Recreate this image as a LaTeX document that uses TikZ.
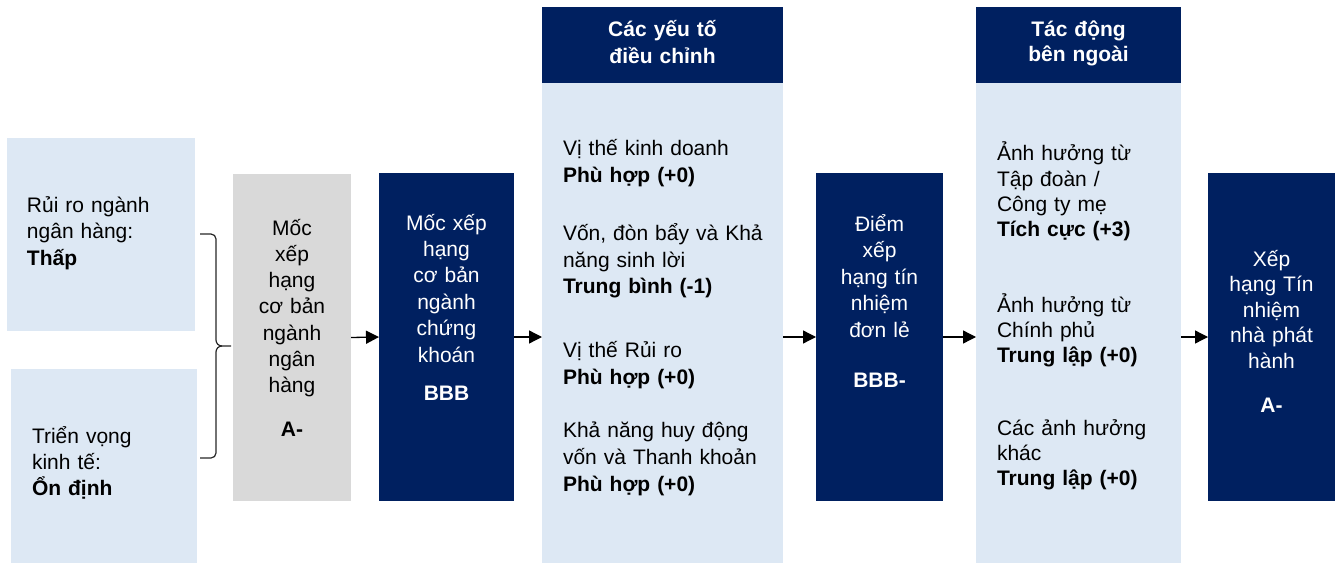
\documentclass[tikz,border=0pt]{standalone}
\usepackage{fontspec}
\setmainfont{Liberation Sans}
\usetikzlibrary{arrows.meta}
\definecolor{navy}{HTML}{002060}
\definecolor{lblue}{HTML}{DDE8F4}
\definecolor{lgray}{HTML}{D9D9D9}
\tikzset{
  box/.style={draw=none, inner sep=0pt, outer sep=0pt, anchor=north west},
  lightbox/.style={box, fill=lblue},
  darkbox/.style={box, fill=navy},
  graybox/.style={box, fill=lgray},
  txt/.style={inner sep=0pt, outer sep=0pt, text=black},
  ltxt/.style={txt, anchor=base west, align=left},
  ctxt/.style={txt, anchor=base, align=center},
  wtxt/.style={ctxt, text=white},
  conn/.style={draw=black, line width=1.3pt, -{Triangle[length=13pt,width=13pt]}},
  bracestyle/.style={draw=black!85, line width=1.2pt, line join=round}
}
\begin{document}
\begin{tikzpicture}[x=1pt,y=-1pt]
\useasboundingbox (0,0) rectangle (1335,564);
% boxes
\node[lightbox, minimum width=188pt, minimum height=193pt] (r1) at (7,138) {};
\node[lightbox, minimum width=186pt, minimum height=194pt] (r2) at (11,369) {};
\node[graybox, minimum width=118pt, minimum height=327pt] (gb) at (233,174) {};
\node[darkbox, minimum width=135pt, minimum height=328pt] (bbb) at (379,173) {};
\node[darkbox, minimum width=241pt, minimum height=76pt] (adjH) at (542,7) {};
\node[lightbox, minimum width=241pt, minimum height=480pt] (adjB) at (542,83) {};
\node[darkbox, minimum width=127pt, minimum height=328pt] (sa) at (816,173) {};
\node[darkbox, minimum width=205pt, minimum height=76pt] (extH) at (976,7) {};
\node[lightbox, minimum width=205pt, minimum height=480pt] (extB) at (976,83) {};
\node[darkbox, minimum width=127pt, minimum height=328pt] (fin) at (1208,173) {};

% texts left boxes
\node[ltxt, text width=170pt, font={\fontsize{21}{26.5}\selectfont}] (t1) at (27,212)
  {Rủi ro ngành\\ngân hàng:\\\textbf{Thấp}};
\node[ltxt, text width=170pt, font={\fontsize{21}{26}\selectfont}] (t2) at (32,443)
  {Triển vọng\\kinh tế:\\\textbf{Ổn định}};

% gray box text
\node[ctxt, text width=118pt, font={\fontsize{21}{26.3}\selectfont}] (tg) at (292,235)
  {Mốc\\xếp\\hạng\\cơ bản\\ngành\\ngân\\hàng\\[17.7pt]\textbf{A-}};
% BBB box text
\node[wtxt, text width=135pt, font={\fontsize{21}{26.4}\selectfont}] (tb) at (446.5,230)
  {Mốc xếp\\hạng\\cơ bản\\ngành\\chứng\\khoán\\[11.6pt]\textbf{BBB}};
% header texts
\node[wtxt, text width=241pt, font={\fontsize{21}{27}\selectfont\bfseries}] (tah) at (662.5,37)
  {Các yếu tố\\điều chỉnh};
\node[wtxt, text width=205pt, font={\fontsize{21}{25}\selectfont\bfseries}] (teh) at (1078.5,37)
  {Tác động\\bên ngoài};
% adjustment factors
\tikzset{adjf/.style={ltxt, text width=215pt, font={\fontsize{21}{27}\selectfont}}}
\node[adjf] (a1) at (563,156) {Vị thế kinh doanh\\\textbf{Phù hợp (+0)}};
\node[adjf] (a2) at (563,240) {Vốn, đòn bẩy và Khả\\năng sinh lời\\\textbf{Trung bình (-1)}};
\node[adjf] (a3) at (563,357) {Vị thế Rủi ro\\\textbf{Phù hợp (+0)}};
\node[adjf] (a4) at (563,437) {Khả năng huy động\\vốn và Thanh khoản\\\textbf{Phù hợp (+0)}};
% standalone
\node[wtxt, text width=127pt, font={\fontsize{21}{26.5}\selectfont}] (ts) at (879.5,231)
  {Điểm\\xếp\\hạng tín\\nhiệm\\đơn lẻ\\[23.5pt]\textbf{BBB-}};
% external
\tikzset{extf/.style={ltxt, text width=180pt, font={\fontsize{21}{25.3}\selectfont}}}
\node[extf] (e1) at (997,161) {Ảnh hưởng từ\\Tập đoàn /\\Công ty mẹ\\\textbf{Tích cực (+3)}};
\node[extf] (e2) at (997,312) {Ảnh hưởng từ\\Chính phủ\\\textbf{Trung lập (+0)}};
\node[extf] (e3) at (997,435) {Các ảnh hưởng\\khác\\\textbf{Trung lập (+0)}};
% final
\node[wtxt, text width=127pt, font={\fontsize{21}{25.5}\selectfont}] (tf) at (1271.5,266)
  {Xếp\\hạng Tín\\nhiệm\\nhà phát\\hành\\[18.5pt]\textbf{A-}};

% brace
\coordinate (btop) at (200,234);
\coordinate (bbot) at (200,458);
\coordinate (btip) at (231,346);
\draw[bracestyle] (btop) -- (211,234) to[out=0,in=90] (216,239) -- (216,340)
  to[out=-90,in=180] (222,346) -- (btip);
\draw[bracestyle] (222,346) to[out=180,in=90] (216,352) -- (216,453)
  to[out=-90,in=0] (211,458) -- (bbot);

% connectors
\draw[conn] (gb.east) -- (bbb.west);
\draw[conn] (bbb.east) -- (bbb.east -| adjB.west);
\draw[conn] (adjB.east |- sa.west) -- (sa.west);
\draw[conn] (sa.east) -- (sa.east -| extB.west);
\draw[conn] (extB.east |- fin.west) -- (fin.west);
\end{tikzpicture}
\end{document}
